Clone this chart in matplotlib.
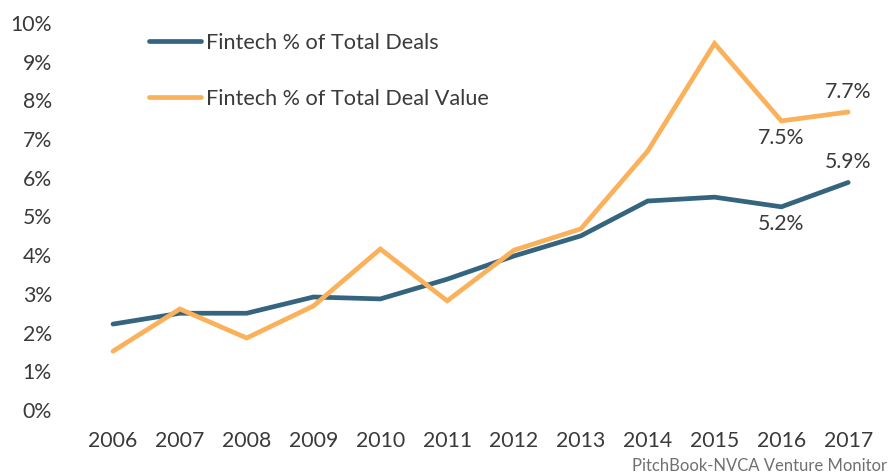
import matplotlib
matplotlib.use("Agg")
import matplotlib.pyplot as plt
from matplotlib.lines import Line2D

years = [2006, 2007, 2008, 2009, 2010, 2011, 2012, 2013, 2014, 2015, 2016, 2017]
deals_pct = [2.22, 2.5, 2.5, 2.92, 2.87, 3.38, 3.98, 4.5, 5.4, 5.5, 5.25, 5.88]
value_pct = [1.52, 2.61, 1.86, 2.69, 4.16, 2.82, 4.13, 4.68, 6.69, 9.47, 7.47, 7.7]
yticks = [0, 1, 2, 3, 4, 5, 6, 7, 8, 9, 10]
series_names = ["Fintech % of Total Deals", "Fintech % of Total Deal Value"]
annotations = [(2016, 7.47, "7.5%", "below"), (2017, 7.7, "7.7%", "above"),
               (2016, 5.25, "5.2%", "below"), (2017, 5.88, "5.9%", "above")]
source = "PitchBook-NVCA Venture Monitor"

dark = "#35647e"
orange = "#fbb05a"
txt = "#3a3a3a"

plt.rcParams['font.family'] = ['Lato', 'DejaVu Sans']

fig = plt.figure(figsize=(8.95, 4.75), dpi=100)
ax = fig.add_axes([79.6 / 895, 65 / 475, 802 / 895, 387 / 475])
ax.plot(years, deals_pct, color=dark, lw=3.4, solid_joinstyle='miter', solid_capstyle='round')
ax.plot(years, value_pct, color=orange, lw=3.4, solid_joinstyle='miter', solid_capstyle='round')
ax.set_xlim(2005.5, 2017.5)
ax.set_ylim(0, 10)
ax.set_xticks(years)
ax.set_xticklabels([str(y) for y in years])
ax.set_yticks(yticks)
ax.set_yticklabels([f"{v}%" for v in yticks])
for s in ax.spines.values():
    s.set_visible(False)
ax.tick_params(length=0, labelsize=15.3, colors=txt)
ax.tick_params(axis='x', pad=15)
ax.tick_params(axis='y', pad=20)

for x, y, t, pos in annotations:
    off = 14.5 if pos == "above" else -12.5
    ax.annotate(t, (x, y), xytext=(0, off), textcoords='offset points',
                ha='center', va='center', fontsize=15.3, color=txt)

handles = [Line2D([0], [0], color=dark, lw=3.4, solid_capstyle='round'),
           Line2D([0], [0], color=orange, lw=3.4, solid_capstyle='round')]
leg = fig.legend(handles, series_names, loc='upper left', bbox_to_anchor=(140 / 895, 1 - 24 / 475),
                 frameon=False, fontsize=15.6, handlelength=2.4, handletextpad=0.25,
                 labelspacing=1.68, borderaxespad=0)
for t in leg.get_texts():
    t.set_color(txt)

fig.text(887 / 895, 1 - 466 / 475, source, ha='right', va='center', fontsize=12, color='#707070')

fig.savefig("out.png", dpi=100)
